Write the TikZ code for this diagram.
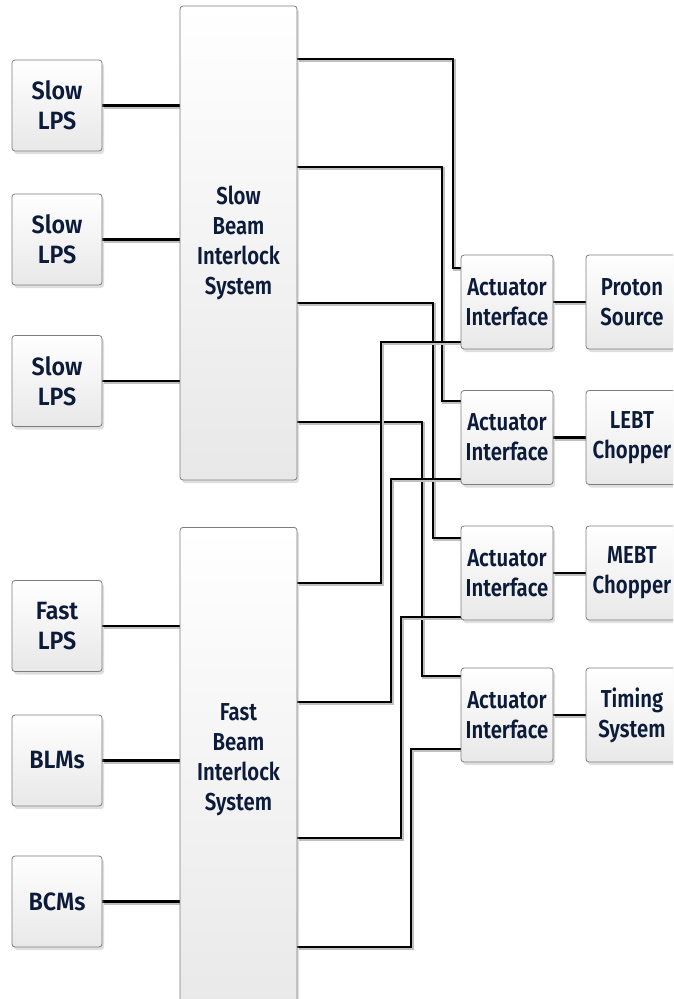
\documentclass[tikz,border=0pt]{standalone}
\usepackage{fontspec}
\setmainfont{Fira Sans}[UprightFont=* SemiBold, BoldFont=* Bold, FakeStretch=0.83]
\newfontfamily\srcfont{Fira Sans}[UprightFont=* SemiBold, FakeStretch=0.93]
\usetikzlibrary{positioning,shadows,backgrounds}
\definecolor{navy}{RGB}{12,27,58}
\definecolor{edge}{RGB}{125,125,125}

\begin{document}
\begin{tikzpicture}[x=1pt,y=-1pt,
  lbl/.style={text=navy, align=center, font=\fontsize{24.5}{30}\selectfont},
  box/.style={lbl, draw=edge, line width=0.8pt, rounded corners=3pt, top color=white, bottom color=black!9,
    drop shadow={shadow xshift=2pt, shadow yshift=-3pt, opacity=0.25}, inner sep=0pt},
  small/.style={box, minimum width=90pt, minimum height=91pt, font=\srcfont\fontsize{25}{30}\selectfont},
  act/.style={box, minimum width=92pt, minimum height=94pt},
  bis/.style={box, minimum width=117pt},
  wire/.style={line width=2.6pt, black,
    preaction={draw=black!25, line width=3pt, transform canvas={shift={(1.5pt,-1.5pt)}}}}]
	\useasboundingbox (0,0) rectangle (673,999);
	\clip (0,0) rectangle (673,999);

	% sources
	\node[small] (slow1) at (57,105.5) {Slow\\LPS};
	\node[small] (slow2) at (57,239.5) {Slow\\LPS};
	\node[small] (slow3) at (57,381) {Slow\\LPS};
	\node[small] (fastlps) at (57,626) {Fast\\LPS};
	\node[small] (blm) at (57,760.5) {BLMs};
	\node[small] (bcm) at (57,901.5) {BCMs};

	% interlock systems
	\node[bis, minimum height=474pt] (sbis) at (238.5,243) {Slow\\Beam\\Interlock\\System};
	\node[bis, minimum height=500pt, anchor=north] (fbis) at (238.5,527) {};
	\node[lbl] (fbistxt) at (238.5,760) {Fast\\Beam\\Interlock\\System};

	% actuators
	\node[act] (ai1) at (507,302) {Actuator\\Interface};
	\node[act] (ai2) at (507,437.5) {Actuator\\Interface};
	\node[act] (ai3) at (507,573) {Actuator\\Interface};
	\node[act] (ai4) at (507,715) {Actuator\\Interface};
	\node[act] (psrc) at (632,302) {Proton\\Source};
	\node[act] (lebt) at (632,437.5) {LEBT\\Chopper};
	\node[act] (mebt) at (632,573) {MEBT\\Chopper};
	\node[act] (tsys) at (632,715) {Timing\\System};

	\begin{scope}[on background layer]
		\draw[wire] (slow1) -- (slow1 -| sbis.west);
		\draw[wire] (slow2) -- (slow2 -| sbis.west);
		\draw[wire] (slow3) -- (slow3 -| sbis.west);
		\draw[wire] (fastlps) -- (fastlps -| fbis.west);
		\draw[wire] (blm) -- (blm -| fbis.west);
		\draw[wire] (bcm) -- (bcm -| fbis.west);

		\draw[wire] (sbis.east |- 0,59) -| (453,268) -- (ai1.west |- 0,268);
		\draw[wire] (sbis.east |- 0,167) -| (442,401) -- (ai2.west |- 0,401);
		\draw[wire] (sbis.east |- 0,303) -| (433,538) -- (ai3.west |- 0,538);
		\draw[wire] (sbis.east |- 0,422) -| (422,676) -- (ai4.west |- 0,676);

		\draw[wire] (fbis.east |- 0,583) -| (381,342) -- (ai1.west |- 0,342);
		\draw[wire] (fbis.east |- 0,702) -| (391,479) -- (ai2.west |- 0,479);
		\draw[wire] (fbis.east |- 0,838) -| (401,617) -- (ai3.west |- 0,617);
		\draw[wire] (fbis.east |- 0,947) -| (411,749) -- (ai4.west |- 0,749);

		\draw[wire] (ai1.east) -- (psrc.west);
		\draw[wire] (ai2.east) -- (lebt.west);
		\draw[wire] (ai3.east) -- (mebt.west);
		\draw[wire] (ai4.east) -- (tsys.west);
	\end{scope}
\end{tikzpicture}
\end{document}
